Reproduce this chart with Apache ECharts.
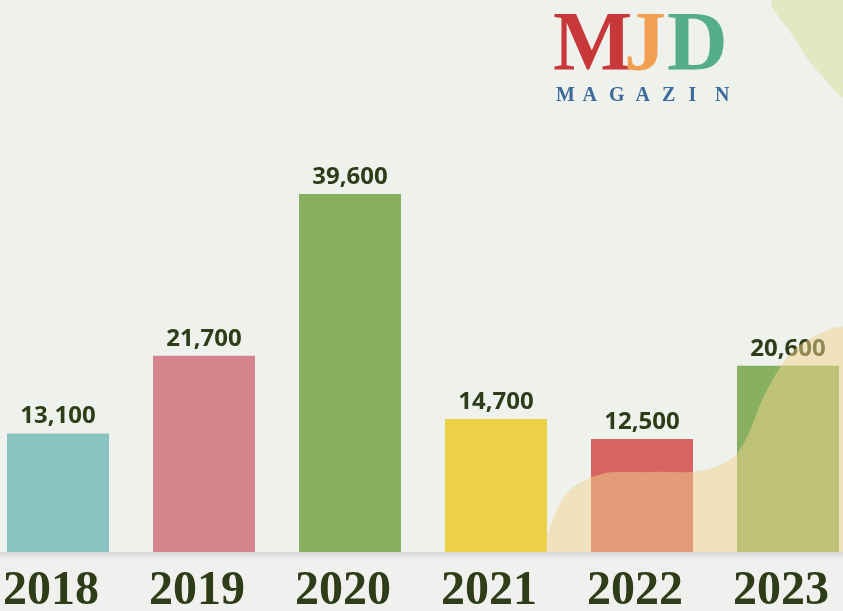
<!DOCTYPE html>
<html>
<head>
<meta charset="utf-8">
<script src="https://cdn.jsdelivr.net/npm/echarts@6/dist/echarts.min.js"></script>
<style>
    html, body { margin: 0; padding: 0; background: #eff1ec; }
    #chart { width: 843px; height: 611px; }
</style>
</head>
<body>
<div id="chart"></div>
<script>
    // data
    const years = ['2018', '2019', '2020', '2021', '2022', '2023'];
    const values = [13100, 21700, 39600, 14700, 12500, 20600];
    const barColors = ['#88c3bf', '#d4848a', '#88b060', '#ecd048', '#d76363', '#88b060'];

    const chart = echarts.init(document.getElementById('chart'));

    const logoSub = 'MAGAZIN'.split('').map((ch, i) => ({
        type: 'text', left: 556 + i * 26.5, top: 86, z: 6,
        style: { text: ch, fontFamily: 'Liberation Serif', fontWeight: 'bold', fontSize: 20, fill: '#3b6a9b' },
    }));

    chart.setOption({
        backgroundColor: '#eff1ec',
        animation: false,
        grid: { left: -15, width: 876, top: 100, bottom: 59, outerBoundsMode: 'none', containLabel: false },
        xAxis: {
            type: 'category',
            data: years,
            z: 10,
            axisLine: { show: false },
            axisTick: { show: false },
            axisLabel: {
                margin: 16,
                padding: [0, 14, 0, 0],
                fontFamily: 'Liberation Serif',
                fontWeight: 'bold',
                fontSize: 48,
                color: '#2e3d18',
            },
        },
        yAxis: { type: 'value', min: 0, max: 50000, show: false },
        series: [{
            type: 'bar',
            barWidth: 102,
            data: values.map((v, i) => ({ value: v, itemStyle: { color: barColors[i] } })),
            label: {
                show: true,
                position: 'top',
                distance: 5,
                fontFamily: 'Noto Sans',
                fontWeight: 'bold',
                fontSize: 24,
                color: '#2e3d18',
                formatter: p => p.value.toLocaleString('en-US'),
            },
            z: 2,
        }],
        graphic: [
            // lower strip + shadow under the baseline
            { type: 'rect', shape: { x: 0, y: 552, width: 843, height: 59 }, style: { fill: '#f0f0ee' }, z: 4.5 },
            {
                type: 'rect', shape: { x: 0, y: 552, width: 843, height: 10 }, z: 5,
                style: { fill: {
                    type: 'linear', x: 0, y: 0, x2: 0, y2: 1,
                    colorStops: [{ offset: 0, color: '#d6d6d4' }, { offset: 1, color: 'rgba(230,230,228,0)' }],
                } },
            },
            // top-right green blob
            {
                type: 'polygon', z: 1,
                shape: { points: [[772, 0], [793, 36], [815, 68], [850, 100], [850, 0]], smooth: 0.3 },
                style: { fill: '#e0e9c2' },
            },
            // yellow blob over the last bars
            {
                type: 'polygon', z: 4,
                shape: {
                    points: [[553, 560], [562, 500], [598, 475], [650, 472], [705, 470], [738, 452], [768, 388], [800, 345], [850, 332], [850, 560]],
                    smooth: 0.35,
                },
                style: { fill: 'rgba(241,212,139,0.5)' },
            },
            // logo
            { type: 'text', left: 553, top: 6, z: 6, style: { text: 'M', fontFamily: 'Liberation Serif', fontWeight: 'bold', fontSize: 84, fill: '#c8373a' } },
            { type: 'text', left: 624, top: 6, z: 6, style: { text: 'J', fontFamily: 'Liberation Serif', fontWeight: 'bold', fontSize: 84, fill: '#f0a050' } },
            { type: 'text', left: 667, top: 6, z: 6, style: { text: 'D', fontFamily: 'Liberation Serif', fontWeight: 'bold', fontSize: 84, fill: '#55ad8c' } },
        ].concat(logoSub),
    });
</script>
</body>
</html>
